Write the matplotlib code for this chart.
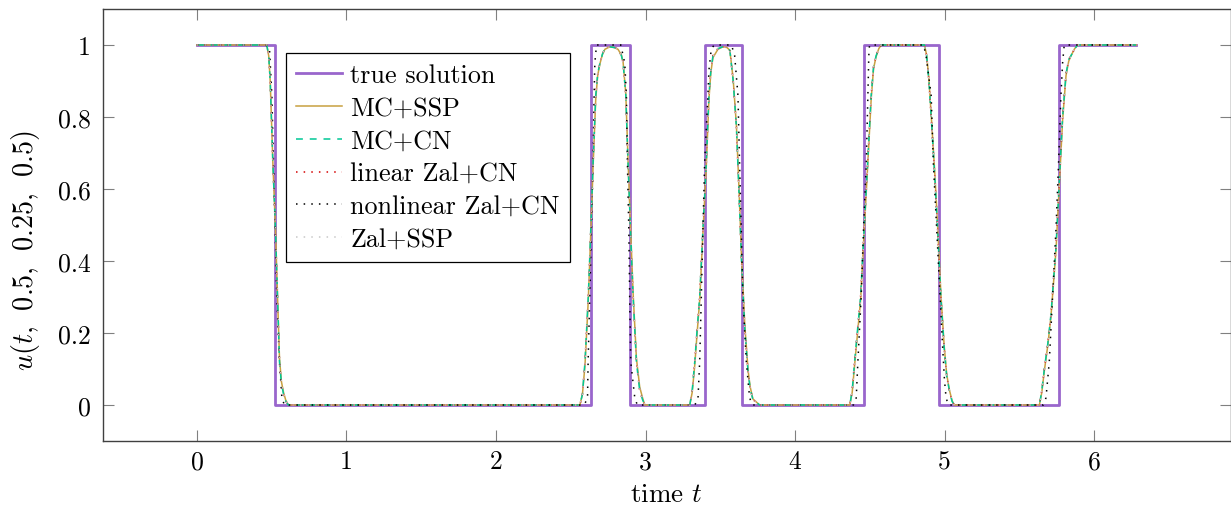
import matplotlib
matplotlib.use("Agg")
import matplotlib.pyplot as plt

plt.rcParams["font.family"] = "cmr10"
plt.rcParams["mathtext.fontset"] = "cm"
plt.rcParams["axes.formatter.use_mathtext"] = True

# true solution (step function)
t_true = [0.0, 0.523, 0.523, 2.638, 2.638, 2.894, 2.894, 3.395, 3.395,
          3.647, 3.647, 4.464, 4.464, 4.965, 4.965, 5.762, 5.762, 6.283]
u_true = [1, 1, 0, 0, 1, 1, 0, 0, 1, 1, 0, 0, 1, 1, 0, 0, 1, 1]

# smeared schemes
t_smooth = [0.0, 0.44, 0.467, 0.480, 0.490, 0.508, 0.525, 0.539, 0.552, 0.565, 0.579, 0.595, 0.612,
            2.50, 2.561, 2.578, 2.595, 2.606, 2.617, 2.634, 2.649, 2.667, 2.680, 2.695, 2.712, 2.728,
            2.760, 2.790, 2.816, 2.839, 2.850, 2.868, 2.883, 2.899, 2.917, 2.928, 2.939, 2.961, 2.980, 2.995,
            3.25, 3.296, 3.312, 3.329, 3.345, 3.362, 3.384, 3.406, 3.424, 3.437, 3.451, 3.484, 3.517,
            3.545, 3.564, 3.586, 3.608, 3.626, 3.642, 3.664, 3.686, 3.700, 3.718, 3.763,
            4.33, 4.366, 4.382, 4.398, 4.418, 4.438, 4.462, 4.485, 4.509, 4.525, 4.542, 4.560, 4.576,
            4.85, 4.865, 4.880, 4.895, 4.915, 4.935, 4.953, 4.975, 4.997, 5.014, 5.032, 5.050, 5.065,
            5.60, 5.634, 5.650, 5.667, 5.690, 5.711, 5.745, 5.767, 5.789, 5.812, 5.830, 5.845, 5.870, 5.890,
            6.283]
u_mc_ssp = [1.0, 1.0, 1.0, 0.97, 0.90, 0.67, 0.49, 0.30, 0.13, 0.065, 0.035, 0.012, 0.0,
            0.0, 0.0, 0.03, 0.11, 0.20, 0.29, 0.48, 0.66, 0.85, 0.915, 0.948, 0.974, 0.988,
            0.995, 0.993, 0.988, 0.972, 0.952, 0.865, 0.68, 0.50, 0.31, 0.22, 0.13, 0.05, 0.02, 0.0,
            0.0, 0.0, 0.035, 0.11, 0.20, 0.29, 0.48, 0.66, 0.85, 0.925, 0.965, 0.988, 0.995,
            0.993, 0.985, 0.905, 0.775, 0.59, 0.41, 0.22, 0.095, 0.05, 0.017, 0.0,
            0.0, 0.0, 0.035, 0.11, 0.20, 0.29, 0.48, 0.66, 0.85, 0.935, 0.968, 0.99, 1.0,
            1.0, 1.0, 0.972, 0.905, 0.775, 0.64, 0.50, 0.31, 0.165, 0.085, 0.042, 0.012, 0.0,
            0.0, 0.0, 0.035, 0.095, 0.165, 0.245, 0.43, 0.61, 0.79, 0.915, 0.955, 0.97, 0.99, 1.0,
            1.0]
u_mc_cn = [1.0, 1.0, 1.0, 0.97, 0.90, 0.67, 0.49, 0.30, 0.12, 0.06, 0.03, 0.01, 0.0,
           0.0, 0.0, 0.03, 0.12, 0.21, 0.30, 0.49, 0.67, 0.86, 0.92, 0.95, 0.975, 0.99,
           0.995, 0.993, 0.99, 0.97, 0.95, 0.86, 0.67, 0.49, 0.30, 0.21, 0.12, 0.04, 0.015, 0.0,
           0.0, 0.0, 0.04, 0.12, 0.21, 0.30, 0.49, 0.67, 0.86, 0.93, 0.97, 0.99, 0.995,
           0.993, 0.985, 0.90, 0.77, 0.58, 0.40, 0.21, 0.09, 0.045, 0.015, 0.0,
           0.0, 0.0, 0.04, 0.12, 0.21, 0.30, 0.49, 0.67, 0.86, 0.94, 0.97, 0.99, 1.0,
           1.0, 1.0, 0.97, 0.90, 0.77, 0.63, 0.49, 0.30, 0.16, 0.08, 0.04, 0.01, 0.0,
           0.0, 0.0, 0.04, 0.10, 0.17, 0.25, 0.44, 0.62, 0.80, 0.92, 0.96, 0.97, 0.99, 1.0,
           1.0]
u_lin_zal_cn = [1.0, 1.0, 1.0, 0.97, 0.90, 0.67, 0.49, 0.30, 0.12, 0.06, 0.03, 0.01, 0.0,
                0.0, 0.0, 0.03, 0.12, 0.21, 0.30, 0.49, 0.67, 0.86, 0.92, 0.95, 0.975, 0.99,
                0.995, 0.993, 0.99, 0.97, 0.95, 0.86, 0.67, 0.49, 0.30, 0.21, 0.12, 0.04, 0.015, 0.0,
                0.0, 0.0, 0.04, 0.12, 0.21, 0.30, 0.49, 0.67, 0.86, 0.93, 0.97, 0.99, 0.995,
                0.993, 0.985, 0.90, 0.77, 0.58, 0.40, 0.21, 0.09, 0.045, 0.015, 0.0,
                0.0, 0.0, 0.04, 0.12, 0.21, 0.30, 0.49, 0.67, 0.86, 0.94, 0.97, 0.99, 1.0,
                1.0, 1.0, 0.97, 0.90, 0.77, 0.63, 0.49, 0.30, 0.16, 0.08, 0.04, 0.01, 0.0,
                0.0, 0.0, 0.04, 0.10, 0.17, 0.25, 0.44, 0.62, 0.80, 0.92, 0.96, 0.97, 0.99, 1.0,
                1.0]
u_zal_ssp = [1.0, 1.0, 1.0, 0.97, 0.90, 0.67, 0.49, 0.30, 0.125, 0.062, 0.032, 0.011, 0.0,
             0.0, 0.0, 0.03, 0.115, 0.205, 0.295, 0.485, 0.665, 0.855, 0.918, 0.95, 0.975, 0.99,
             0.995, 0.993, 0.99, 0.97, 0.95, 0.862, 0.675, 0.495, 0.305, 0.215, 0.125, 0.045, 0.017, 0.0,
             0.0, 0.0, 0.038, 0.115, 0.205, 0.295, 0.485, 0.665, 0.855, 0.928, 0.968, 0.99, 0.995,
             0.993, 0.985, 0.902, 0.772, 0.585, 0.405, 0.215, 0.092, 0.047, 0.016, 0.0,
             0.0, 0.0, 0.038, 0.115, 0.205, 0.295, 0.485, 0.665, 0.855, 0.938, 0.969, 0.99, 1.0,
             1.0, 1.0, 0.971, 0.902, 0.772, 0.635, 0.495, 0.305, 0.162, 0.082, 0.041, 0.011, 0.0,
             0.0, 0.0, 0.038, 0.098, 0.168, 0.248, 0.435, 0.615, 0.795, 0.918, 0.958, 0.97, 0.99, 1.0,
             1.0]

# nonlinear Zalesak + CN is sharper
t_nonlin = [0.0, 0.46, 0.485, 0.501, 0.512, 0.523, 0.534, 0.552, 0.568, 0.585,
            2.59, 2.612, 2.616, 2.627, 2.638, 2.649, 2.656, 2.661, 2.672,
            2.835, 2.850, 2.861, 2.872, 2.879, 2.888, 2.894, 2.901, 2.928, 2.945,
            3.33, 3.351, 3.362, 3.373, 3.384, 3.395, 3.417, 3.424, 3.440, 3.46,
            3.575, 3.596, 3.618, 3.629, 3.640, 3.651, 3.674, 3.696, 3.715,
            4.39, 4.409, 4.420, 4.442, 4.458, 4.476, 4.487, 4.493, 4.498,
            4.86, 4.876, 4.910, 4.925, 4.947, 4.970, 4.987, 4.999, 5.010, 5.025,
            5.66, 5.678, 5.700, 5.722, 5.745, 5.762, 5.778, 5.789, 5.800,
            6.283]
u_nonlin_zal_cn = [1.0, 1.0, 0.99, 0.86, 0.67, 0.49, 0.30, 0.12, 0.02, 0.0,
                   0.0, 0.02, 0.12, 0.30, 0.49, 0.67, 0.86, 0.95, 1.0,
                   1.0, 0.97, 0.95, 0.86, 0.67, 0.49, 0.30, 0.12, 0.02, 0.0,
                   0.0, 0.02, 0.12, 0.30, 0.49, 0.67, 0.86, 0.93, 0.99, 1.0,
                   1.0, 0.97, 0.86, 0.67, 0.49, 0.30, 0.12, 0.02, 0.0,
                   0.0, 0.02, 0.12, 0.30, 0.49, 0.67, 0.86, 0.97, 1.0,
                   1.0, 0.97, 0.86, 0.67, 0.49, 0.30, 0.16, 0.07, 0.02, 0.0,
                   0.0, 0.02, 0.12, 0.30, 0.49, 0.67, 0.86, 0.95, 1.0,
                   1.0]

x_ticks = [0, 1, 2, 3, 4, 5, 6]
y_ticks = [0, 0.2, 0.4, 0.6, 0.8, 1]
y_tick_labels = ["0", "0.2", "0.4", "0.6", "0.8", "1"]

fs_tick = 18.5
fs_label = 19.5
fs_leg = 18.8

fig = plt.figure(figsize=(12.31, 5.10), dpi=100)
ax = fig.add_axes([0.0837, 0.1333, 0.9159, 0.8471])

ax.plot(t_true, u_true, color="#9966cc", lw=2.0, label="true solution")
ax.plot(t_smooth, u_mc_ssp, color="#c8a040", lw=1.1, label="MC+SSP")
ax.plot(t_smooth, u_mc_cn, color="#00c896", lw=1.1, ls=(0, (4.5, 4.5)), label="MC+CN")
ax.plot(t_smooth, u_lin_zal_cn, color="#d40000", lw=1.1, ls=(0, (1, 4)), label="linear Zal+CN")
ax.plot(t_nonlin, u_nonlin_zal_cn, color="black", lw=1.1, ls=(0, (1, 4)), label="nonlinear Zal+CN")
ax.plot(t_smooth, u_zal_ssp, color="#c8c8c8", lw=1.1, ls=(0, (1, 4)), label="Zal+SSP")

ax.set_xlim(-0.628, 6.912)
ax.set_ylim(-0.1, 1.1)
ax.set_xticks(x_ticks)
ax.set_xticklabels([str(v) for v in x_ticks])
ax.set_yticks(y_ticks)
ax.set_yticklabels(y_tick_labels)
ax.tick_params(direction="in", length=8, width=0.8, color="0.5", labelsize=fs_tick,
               top=True, right=True)
ax.tick_params(axis="x", pad=6)
ax.tick_params(axis="y", pad=9)
for s in ax.spines.values():
    s.set_color("0.25")
    s.set_linewidth(1.0)

ax.set_xlabel("time $t$", fontsize=fs_label)
ax.set_ylabel(r"$u(t,\;\,0.5,\;\,0.25,\;\,0.5)$", fontsize=fs_label + 0.8)
ax.xaxis.set_label_coords(0.5, -0.095)
ax.yaxis.set_label_coords(-0.054, 0.444)

leg = ax.legend(loc="upper left", bbox_to_anchor=(0.1622, 0.8985), borderaxespad=0,
                fontsize=fs_leg, handlelength=1.75, handletextpad=0.32, labelspacing=0.35,
                borderpad=0.4, fancybox=False, framealpha=1, edgecolor="black")
leg.get_frame().set_linewidth(0.9)

fig.savefig("out.png", dpi=100)
